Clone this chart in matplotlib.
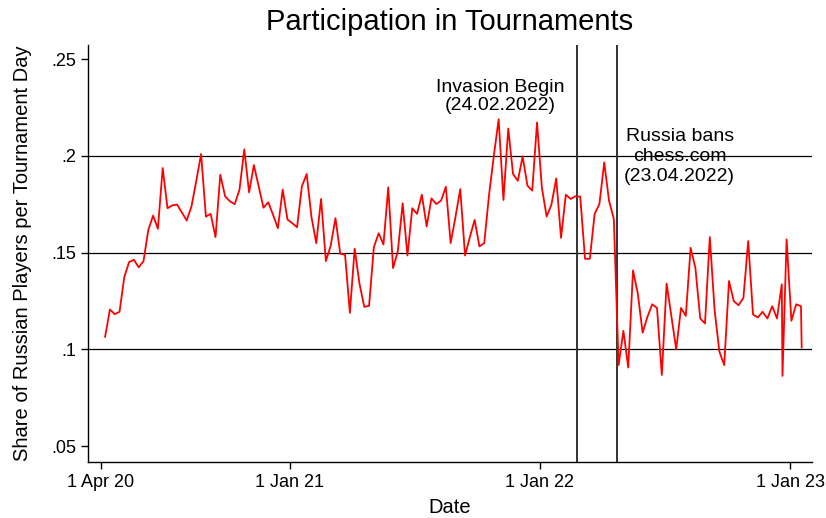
#!/usr/bin/env python3
"""Share of Russian players per tournament day."""

import matplotlib
matplotlib.use("Agg")
import matplotlib.pyplot as plt
import pandas as pd

plt.rcParams['font.family'] = ['Liberation Sans', 'DejaVu Sans']

# Weekly tournament days, first one on 7 Apr 2020.
first_day = "2020-04-07"
share = [
    0.1065, 0.1206, 0.1182, 0.1194, 0.1374, 0.1451, 0.1463, 0.1424, 0.1456, 0.1617,
    0.1691, 0.1623, 0.1937, 0.1729, 0.1744, 0.1748, 0.1707, 0.1666, 0.1739, 0.1871,
    0.2009, 0.1686, 0.1700, 0.1580, 0.1902, 0.1791, 0.1765, 0.1750, 0.1825, 0.2033,
    0.1811, 0.1952, 0.1842, 0.1732, 0.1760, 0.1695, 0.1626, 0.1825, 0.1671, 0.1652,
    0.1631, 0.1842, 0.1906, 0.1683, 0.1549, 0.1777, 0.1456, 0.1535, 0.1678,
    0.1494, 0.1489, 0.1189, 0.1520, 0.1340, 0.1220, 0.1225, 0.1528, 0.1600, 0.1542,
    0.1837, 0.1420, 0.1508, 0.1755, 0.1485, 0.1729, 0.1700, 0.1799, 0.1635, 0.1780,
    0.1751, 0.1768, 0.1840, 0.1549, 0.1683, 0.1828, 0.1485, 0.1580, 0.1669, 0.1532,
    0.1549, 0.1798, 0.2000, 0.2189, 0.1772, 0.2141, 0.1906, 0.1871, 0.1997, 0.1846,
    0.1820, 0.2172, 0.1837, 0.1686, 0.1748, 0.1883, 0.1576, 0.1799, 0.1777, 0.1791,
    0.1789,
    0.1468, 0.1468, 0.1700, 0.1751, 0.1966, 0.1768, 0.1674, 0.0919, 0.1096, 0.0906,
    0.1408, 0.1288, 0.1086, 0.1168, 0.1233, 0.1214, 0.0868, 0.1340, 0.1168, 0.1000,
    0.1214, 0.1173, 0.1525, 0.1420, 0.1160, 0.1134, 0.1580, 0.1202, 0.0988, 0.0919,
    0.1353, 0.1249, 0.1228, 0.1266, 0.1559, 0.1180, 0.1165, 0.1194, 0.1160, 0.1223,
    0.1160, 0.1336, 0.1568, 0.1148, 0.1233, 0.1223,
]
# Extra tournament days outside the weekly rhythm.
extra_days = ["2022-12-21", "2023-01-18"]
extra_share = [0.0863, 0.1010]

events = ["2022-02-24", "2022-04-23"]
event_labels = ["Invasion Begin\n(24.02.2022)", "Russia bans\nchess.com\n(23.04.2022)"]
label_pos = [("2021-11-04", 0.2305), ("2022-07-24", 0.1996)]
label_spacing = [1.08, 1.2]

yticks = [0.05, 0.10, 0.15, 0.20, 0.25]
ytick_labels = [".05", ".1", ".15", ".2", ".25"]
grid_at = [0.10, 0.15, 0.20]
xticks = ["2020-04-01", "2021-01-01", "2022-01-01", "2023-01-01"]
xtick_labels = ["1 Apr 20", "1 Jan 21", "1 Jan 22", "1 Jan 23"]

if __name__ == '__main__':
    weekly = pd.Series(share, index=pd.date_range(first_day, periods=len(share), freq="7D"))
    extra = pd.Series(extra_share, index=pd.to_datetime(extra_days))
    data = pd.concat([weekly, extra]).sort_index()

    fig = plt.figure(figsize=(8.26, 5.18), dpi=100)
    ax = fig.add_axes([0.1065, 0.108, 0.8765, 0.805])

    for g in grid_at:
        ax.axhline(g, color="black", lw=0.9, zorder=1)
    for d in events:
        ax.axvline(pd.Timestamp(d), color="#333333", lw=1.4, zorder=2)

    ax.plot(data.index, data.values, color="red", lw=1.3, zorder=3)

    for (d, y), txt, ls in zip(label_pos, event_labels, label_spacing):
        ax.text(pd.Timestamp(d), y, txt, ha="center", va="center",
                fontsize=14, linespacing=ls, zorder=4)

    ax.set_ylim(0.0418, 0.2572)
    ax.set_xlim(pd.Timestamp("2020-03-13"), pd.Timestamp("2023-02-02"))
    ax.set_yticks(yticks)
    ax.set_yticklabels(ytick_labels)
    ax.set_xticks([pd.Timestamp(t) for t in xticks])
    ax.set_xticklabels(xtick_labels)
    ax.tick_params(labelsize=13, length=5, width=1, color="black")

    for s in ["top", "right"]:
        ax.spines[s].set_visible(False)
    for s in ["left", "bottom"]:
        ax.spines[s].set_linewidth(1.0)

    ax.set_title("Participation in Tournaments", fontsize=21, pad=11)
    ax.set_xlabel("Date", fontsize=14.5, labelpad=5)
    ax.set_ylabel("Share of Russian Players per Tournament Day", fontsize=14.5, labelpad=14)

    fig.savefig("out.png", dpi=100)
